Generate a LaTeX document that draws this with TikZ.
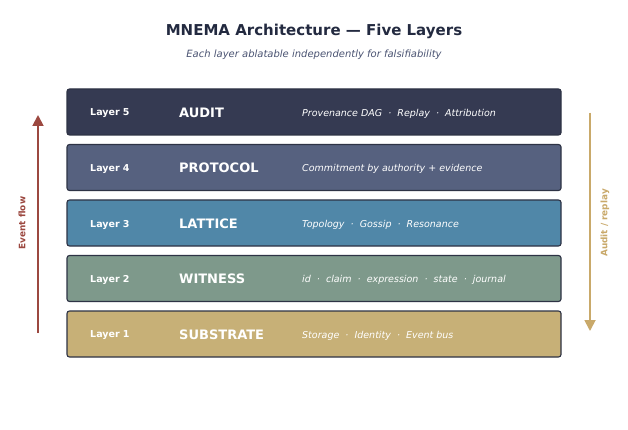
\documentclass[tikz,border=0pt]{standalone}
\usepackage{fontspec}
\setmainfont{DejaVu Sans}
\usetikzlibrary{arrows.meta}
\definecolor{cTitle}{HTML}{232A40}
\definecolor{cSub}{HTML}{4A5372}
\definecolor{cL5}{HTML}{353A52}
\definecolor{cL4}{HTML}{56617F}
\definecolor{cL3}{HTML}{5087A8}
\definecolor{cL2}{HTML}{7E998B}
\definecolor{cL1}{HTML}{C7B077}
\definecolor{cEdge}{HTML}{2E3345}
\definecolor{cRed}{HTML}{9C4840}
\definecolor{cGold}{HTML}{C9A96A}
\tikzset{
  layerbox/.style={draw=cEdge, line width=1.1pt, rounded corners=2.5pt, minimum width=494pt, minimum height=46pt, inner sep=0pt},
  lnum/.style={text=white, font=\bfseries\fontsize{9.5}{11}\selectfont, anchor=west, inner sep=0pt, yshift=-1.5pt},
  lname/.style={text=white, font=\bfseries\fontsize{13}{15}\selectfont, anchor=west, inner sep=0pt, yshift=-0.5pt},
  ldesc/.style={text=white, font=\itshape\fontsize{9.5}{11}\selectfont, anchor=west, inner sep=0pt, yshift=-1.5pt},
  flow/.style={line width=1.8pt, -{Triangle[width=11pt,length=11pt]}},
  flowlabel/.style={font=\bfseries\fontsize{8.9}{10}\selectfont, rotate=90}
}
\newcommand{\sep}{\hspace{0.64em}·\hspace{0.64em}}
\begin{document}
\begin{tikzpicture}[x=1pt,y=-1pt]
\useasboundingbox (0,0) rectangle (628,430);
\fill[white] (0,0) rectangle (628,430);
\node[text=cTitle, font=\bfseries\fontsize{15}{18}\selectfont] (title) at (314,31.5) {MNEMA Architecture — Five Layers};
\node[text=cSub, font=\itshape\fontsize{10}{12}\selectfont] (sub) at (314,54.5) {Each layer ablatable independently for falsifiability};

\node[layerbox, fill=cL5] (b5) at (314,112) {};
\node[layerbox, fill=cL4] (b4) at (314,167.5) {};
\node[layerbox, fill=cL3] (b3) at (314,223) {};
\node[layerbox, fill=cL2] (b2) at (314,278.5) {};
\node[layerbox, fill=cL1] (b1) at (314,334) {};

\node[lnum] (n5) at (90,112) {Layer 5};
\node[lnum] (n4) at (90,167.5) {Layer 4};
\node[lnum] (n3) at (90,223) {Layer 3};
\node[lnum] (n2) at (90,278.5) {Layer 2};
\node[lnum] (n1) at (90,334) {Layer 1};

\node[lname] (t5) at (179,112) {AUDIT};
\node[lname] (t4) at (179,167.5) {PROTOCOL};
\node[lname] (t3) at (179,223) {LATTICE};
\node[lname] (t2) at (179,278.5) {WITNESS};
\node[lname] (t1) at (179,334) {SUBSTRATE};

\node[ldesc] (d5) at (302,112) {Provenance DAG\sep Replay\sep Attribution};
\node[ldesc] (d4) at (302,167.5) {Commitment by authority + evidence};
\node[ldesc] (d3) at (302,223) {Topology\sep Gossip\sep Resonance};
\node[ldesc] (d2) at (302,278.5) {id\sep claim\sep expression\sep state\sep journal};
\node[ldesc] (d1) at (302,334) {Storage\sep Identity\sep Event bus};

\coordinate (ef0) at (38,333);
\coordinate (ef1) at (38,115);
\draw[flow, draw=cRed, fill=cRed] (ef0) -- (ef1);
\node[flowlabel, text=cRed] (efl) at (22,223) {Event flow};

\coordinate (ar0) at (590,113);
\coordinate (ar1) at (590,331);
\draw[flow, draw=cGold, fill=cGold] (ar0) -- (ar1);
\node[flowlabel, text=cGold] (arl) at (605,223) {Audit / replay};
\end{tikzpicture}
\end{document}
